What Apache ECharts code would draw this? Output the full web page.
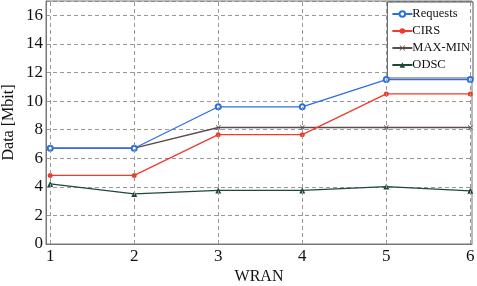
<!DOCTYPE html>
<html>
<head>
<meta charset="utf-8">
<script src="https://cdn.jsdelivr.net/npm/echarts@6/dist/echarts.min.js"></script>
<style>
  html, body { margin: 0; padding: 0; background: #fff; }
  #chart { width: 477px; height: 286px; }
</style>
</head>
<body>
<div id="chart"></div>
<script>
var wran = [1, 2, 3, 4, 5, 6];
var requests = [6.7, 6.7, 9.6, 9.6, 11.5, 11.5];
var cirs = [4.8, 4.8, 7.65, 7.65, 10.5, 10.5];
var maxMin = [6.7, 6.7, 8.15, 8.15, 8.15, 8.15];
var odsc = [4.2, 3.5, 3.75, 3.75, 4.02, 3.72];
var yTicks = [0, 2, 4, 6, 8, 10, 12, 14, 16];

function pairs(vals) {
  return wran.map(function (x, i) { return [x, vals[i]]; });
}

var crossPath = 'path://M0,1L1,0L5,4L9,0L10,1L6,5L10,9L9,10L5,6L1,10L0,9L4,5Z';
var serif = '"Liberation Serif", "DejaVu Serif", serif';

var myChart = echarts.init(document.getElementById('chart'));
var option = {
  backgroundColor: '#fff',
  animation: false,
  textStyle: { fontFamily: serif },
  grid: { left: 46, right: 5, top: 1, bottom: 42, outerBoundsMode: 'none', containLabel: false },
  legend: {
    right: 4, top: 2,
    orient: 'vertical',
    backgroundColor: '#fff',
    borderColor: '#555',
    borderWidth: 1,
    borderRadius: 0,
    padding: [5, 3, 6, 4],
    itemGap: 3,
    itemWidth: 20,
    itemHeight: 7,
    textStyle: { fontFamily: serif, fontSize: 12.5, lineHeight: 14, color: '#111', padding: [0, 0, 0, -5] },
    data: ['Requests', 'CIRS', 'MAX-MIN', 'ODSC']
  },
  xAxis: {
    type: 'value',
    min: 0.95, max: 6.02,
    interval: 1,
    name: 'WRAN',
    nameLocation: 'middle',
    nameGap: 25,
    nameMoveOverlap: false,
    nameTextStyle: { fontFamily: serif, fontSize: 16, color: '#111' },
    axisLine: { onZero: false, lineStyle: { color: '#777' } },
    axisTick: { show: false },
    axisLabel: {
      fontFamily: serif, fontSize: 17, color: '#111', margin: 4,
      customValues: wran,
      formatter: function (v) { return String(v); }
    },
    splitLine: { show: false }
  },
  yAxis: {
    type: 'value',
    min: 0, max: 17,
    interval: 2,
    name: 'Data [Mbit]',
    nameLocation: 'middle',
    nameGap: 29,
    nameMoveOverlap: false,
    nameTextStyle: { fontFamily: serif, fontSize: 16, color: '#111' },
    axisLine: { show: true, lineStyle: { color: '#777' } },
    axisTick: { show: false },
    axisLabel: {
      fontFamily: serif, fontSize: 17, color: '#111', margin: 3,
      customValues: yTicks
    },
    splitLine: { show: true, lineStyle: { color: '#999', type: [4, 3], width: 1 } }
  },
  series: [
    {
      name: 'Requests', type: 'line', data: pairs(requests),
      symbol: 'emptyCircle', symbolSize: 5,
      itemStyle: { color: '#2e6fe0', borderWidth: 1.2 },
      lineStyle: { color: '#2e6fe0', width: 1.3 },
      z: 4
    },
    {
      name: 'CIRS', type: 'line', data: pairs(cirs),
      symbol: 'circle', symbolSize: 5,
      itemStyle: { color: '#f23a2a' },
      lineStyle: { color: '#f23a2a', width: 1.3 },
      z: 3
    },
    {
      name: 'MAX-MIN', type: 'line', data: pairs(maxMin),
      symbol: crossPath, symbolSize: 5,
      itemStyle: { color: '#5e4a4c' },
      lineStyle: { color: '#5e4a4c', width: 1.3 },
      z: 2
    },
    {
      name: 'ODSC', type: 'line', data: pairs(odsc),
      symbol: 'triangle', symbolSize: 6,
      itemStyle: { color: '#1d4a36' },
      lineStyle: { color: '#1d4a36', width: 1.3 },
      z: 2
    },
    {
      // vertical dashed grid lines
      type: 'line', silent: true, data: [],
      markLine: {
        symbol: 'none', silent: true, label: { show: false },
        lineStyle: { color: '#999', type: [4, 3], width: 1 },
        data: wran.map(function (x) { return { xAxis: x }; })
      }
    }
  ]
};
myChart.setOption(option);

// plot border (top and right)
myChart.setOption({
  graphic: [{
    type: 'rect',
    shape: { x: 46, y: 1, width: 426, height: 243 },
    style: { fill: 'none', stroke: '#777', lineWidth: 1 },
    silent: true,
    z: 0
  }]
});
</script>
</body>
</html>
